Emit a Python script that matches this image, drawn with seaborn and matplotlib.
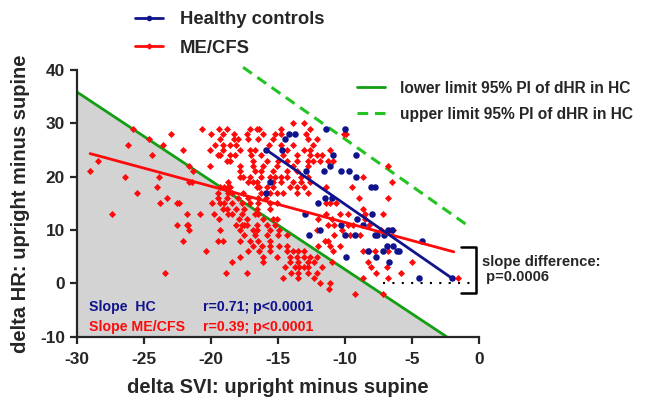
import numpy as np
import pandas as pd
import seaborn as sns
import matplotlib
matplotlib.use("Agg")
from matplotlib import pyplot as plt
from matplotlib.lines import Line2D

# healthy controls: delta SVI (x), delta HR (y)
hc_svi = [-11.4, -10.0, -14.2, -13.7, -14.5, -15.9, -14.7, -12.9, -15.6, -15.9,
          -12.0, -10.9, -11.1, -11.6, -10.3, -9.7, -9.2, -9.2, -8.1, -7.8,
          -11.5, -11.0, -8.0, -11.9, -10.3, -10.0, -9.3, -9.1, -8.7, -7.8,
          -7.6, -7.1, -6.8, -6.5, -6.9, -6.4, -6.1, -7.2, -8.3, -7.7,
          -9.9, -6.7, -4.3, -4.5, -2.0, -13.0, -12.7, -6.0]
hc_hr = [29, 29, 28, 28, 27, 25, 25, 21, 19, 17,
         15, 24, 22, 21, 21, 21, 24, 20, 18, 18,
         16, 16, 13, 10, 11, 9, 9, 12, 11, 9,
         9, 9, 10, 10, 7, 7, 6, 6, 6, 5,
         5, 4, 8, 1, 1, 13, 9, 6]

# ME/CFS patients, one line per delta HR level
mecfs_rows = {
    30: [-13.9, -13.1],
    29: [-25.8, -20.7, -19.4, -18.8, -17.1, -16.6, -16.4, -14.8, -12.6],
    28: [-23.0, -20.0, -19.1, -18.3, -17.3, -16.1, -15.2, -14.8, -12.9, -10.1, -9.9],
    27: [-24.6, -19.3, -18.3, -18.0, -17.2, -16.5, -15.4, -12.8, -12.1],
    26: [-26.2, -23.6, -19.7, -19.1, -18.6, -18.1, -15.7, -14.8, -13.9, -12.4],
    25: [-22.1, -20.1, -19.1, -17.8, -17.1, -16.7, -14.3, -13.1, -12.6, -11.1],
    24: [-24.4, -19.5, -19.3, -18.6, -18.2, -17.0, -16.3, -14.6, -13.6, -12.6, -12.1, -11.7],
    23: [-28.4, -18.8, -18.6, -16.9, -15.8, -15.0, -14.3, -13.6, -12.8, -12.4, -11.3, -10.9, -11.9],
    22: [-21.6, -20.1, -17.8, -16.9, -16.1, -15.1, -13.9, -12.8, -6.8],
    21: [-29.0, -21.3, -17.8, -16.7, -16.3, -15.4, -14.3, -13.6],
    20: [-26.4, -23.9, -17.8, -17.6, -17.1, -16.3, -15.6, -15.2, -14.8, -14.3, -13.3, -12.8, -8.7],
    19: [-21.6, -21.4, -18.7, -17.2, -16.9, -16.6, -15.4, -14.8, -13.9, -13.3, -12.6, -6.5],
    18: [-24.0, -19.3, -19.0, -18.7, -18.6, -16.6, -16.4, -15.8, -15.4, -14.1, -13.6, -13.1, -11.4, -9.5],
    17: [-25.5, -19.5, -18.7, -18.4, -17.6, -16.3, -15.6, -15.1, -14.6, -13.6, -12.8],
    16: [-23.3, -19.5, -18.8, -18.0, -17.2, -16.5, -15.9, -9.0, -6.8],
    15: [-23.8, -22.4, -22.5, -19.9, -19.3, -19.0, -18.4, -17.7, -17.1, -16.5, -15.6, -15.1, -11.4, -11.1, -10.7],
    14: [-19.1, -18.8, -18.1, -17.5, -16.6, -15.6, -8.7],
    13: [-27.4, -21.8, -20.8, -19.8, -18.7, -18.4, -17.7, -16.7, -16.5, -11.4, -10.4, -9.8, -8.5, -7.2],
    12: [-19.4, -17.9, -17.3, -16.1, -15.4, -15.1, -12.0, -11.0, -8.5],
    11: [-22.5, -21.7, -21.8, -18.1, -17.7, -17.5, -17.3, -16.6, -15.8, -15.2, -11.3, -10.8, -9.8, -9.4, -8.2],
    10: [-21.6, -19.3, -17.8, -16.9, -16.6, -15.6, -14.9, -12.1, -10.2, -7.3, -6.4],
    9: [-17.5, -16.7, -15.8, -15.0, -14.3, -10.8, -9.6, -8.9],
    8: [-22.1, -19.5, -19.1, -17.8, -17.1, -16.5, -15.6, -11.5, -11.3],
    7: [-16.9, -16.2, -15.6, -14.9, -14.3, -12.0, -11.1, -10.4],
    6: [-20.4, -17.2, -16.4, -15.6, -14.3, -13.9, -13.5, -13.1, -10.9, -8.7, -8.2, -7.8, -6.8],
    5: [-17.8, -16.1, -15.1, -14.1, -13.6, -13.1, -12.6, -12.1],
    4: [-18.4, -16.1, -14.1, -13.5, -12.8, -12.3, -11.0, -8.3, -5.0],
    3: [-14.5, -13.7, -13.4, -13.1, -12.8, -11.7, -8.1, -6.9],
    2: [-23.4, -18.9, -17.3, -14.0, -13.5, -12.8, -12.1, -7.7, -5.8],
    1: [-14.6, -13.5, -12.3, -8.7, -6.8, -1.6],
    0: [-11.9, -11.1],
    -1: [-11.2],
    -2: [-9.3, -7.2],
}

# regression lines: (slope, intercept) and x range
hc_fit = (-1.74, -2.6)
hc_line_x = [-15.9, -1.9]
mecfs_fit = (-0.68, 4.6)
mecfs_line_x = [-29.0, -1.9]
# 95% prediction interval limits of dHR in HC (end points)
lower_pi_x = [-30.0, -2.45]
lower_pi_y = [35.9, -10.0]
upper_pi_x = [-17.6, -0.9]
upper_pi_y = [40.5, 10.9]

BLUE = "#10148C"
RED = "#FF0A0A"
GREEN = "#139E13"
GREEN_LIGHT = "#22C322"

hc = pd.DataFrame({"svi": hc_svi, "hr": hc_hr})
mecfs = pd.DataFrame([(x, hr) for hr, xs in mecfs_rows.items() for x in xs],
                     columns=["svi", "hr"])

sns.set_style("ticks")
plt.rcParams["font.family"] = ["Liberation Sans", "DejaVu Sans"]
plt.rcParams["font.weight"] = "bold"
plt.rcParams["axes.unicode_minus"] = False

fig = plt.figure(figsize=(6.5, 4.03), dpi=100)
ax = fig.add_axes([0.118, 0.1648, 0.6194, 0.6615])

# gray area below the lower limit
ax.fill_between(lower_pi_x, -10, lower_pi_y, color="#D3D3D3", lw=0, zorder=0)

sns.scatterplot(data=mecfs, x="svi", y="hr", ax=ax, color=RED, marker="D",
                s=13, linewidth=0, zorder=3, legend=False)
sns.scatterplot(data=hc, x="svi", y="hr", ax=ax, color=BLUE, marker="o",
                s=22, linewidth=0, zorder=4, legend=False)

hx = np.array(hc_line_x)
mx = np.array(mecfs_line_x)
sns.lineplot(x=mx, y=mecfs_fit[0] * mx + mecfs_fit[1], ax=ax, color=RED, lw=2, zorder=5)
sns.lineplot(x=hx, y=hc_fit[0] * hx + hc_fit[1], ax=ax, color=BLUE, lw=2, zorder=6)
sns.lineplot(x=lower_pi_x, y=lower_pi_y, ax=ax, color=GREEN, lw=2, zorder=2)
ax.plot(upper_pi_x, upper_pi_y, color=GREEN_LIGHT, lw=2.2, dashes=(3.5, 2.2), clip_on=False, zorder=2)

# dotted zero line and slope difference bracket
ax.plot([-7.2, -0.5], [0, 0], color="black", lw=1.5, ls=(0, (1, 3.5)), zorder=2)
ax.plot([-1.37, -0.25, -0.25, -1.37], [6.8, 6.8, -1.8, -1.8], color="black",
        lw=1.8, clip_on=False)
ax.text(0.2, 2.6, "slope difference:\n p=0.0006", fontsize=10.6, fontweight="bold",
        ha="left", va="center", linespacing=1.15, clip_on=False)

ax.text(-29.1, -4.4, "Slope  HC", color=BLUE, fontsize=10.2, fontweight="bold", va="center")
ax.text(-20.6, -4.4, "r=0.71; p<0.0001", color=BLUE, fontsize=10.2, fontweight="bold", va="center")
ax.text(-29.1, -8.2, "Slope ME/CFS", color=RED, fontsize=10.2, fontweight="bold", va="center")
ax.text(-20.6, -8.2, "r=0.39; p<0.0001", color=RED, fontsize=10.2, fontweight="bold", va="center")

ax.set_xlim(-30, 0)
ax.set_ylim(-10, 40)
ax.set_xticks(range(-30, 1, 5))
ax.set_yticks(range(-10, 41, 10))
sns.despine(ax=ax)
for s in ["left", "bottom"]:
    ax.spines[s].set_linewidth(1.6)
ax.tick_params(width=1.6, length=5, labelsize=12.4)
ax.tick_params(axis="x", pad=6)
ax.tick_params(axis="y", pad=3.5)
for lab in ax.get_xticklabels() + ax.get_yticklabels():
    lab.set_fontweight("bold")
ax.set_xlabel("delta SVI: upright minus supine", fontsize=14.5, fontweight="bold")
ax.set_ylabel("delta HR: upright minus supine", fontsize=14.5, fontweight="bold")
ax.xaxis.set_label_coords(0.5, -0.155)
ax.yaxis.set_label_coords(-0.116, 0.5)

# group legend
grp = [Line2D([], [], color=BLUE, lw=2, marker="o", ms=3),
       Line2D([], [], color=RED, lw=2, marker="D", ms=2.5)]
fig.legend(grp, ["Healthy controls", "ME/CFS"], loc="upper left",
           bbox_to_anchor=(0.2077, 0.972), frameon=False, handlelength=1.52,
           handletextpad=0.92, labelspacing=0.62, borderpad=0, borderaxespad=0,
           prop={"size": 13.3, "weight": "bold"})
lim = [Line2D([], [], color=GREEN, lw=2),
       Line2D([], [], color=GREEN_LIGHT, lw=2.2, dashes=(3.5, 2.2))]
fig.legend(lim, ["lower limit 95% PI of dHR in HC", "upper limit 95% PI of dHR in HC"],
           loc="upper left", bbox_to_anchor=(0.549, 0.80), frameon=False,
           handlelength=1.8, handletextpad=0.96, labelspacing=0.72, borderpad=0,
           borderaxespad=0, prop={"size": 11.2, "weight": "bold"})

fig.savefig("out.png", dpi=100)
